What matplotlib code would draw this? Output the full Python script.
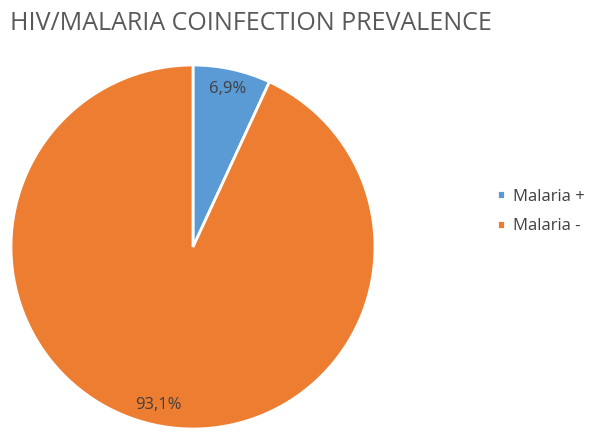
import matplotlib.pyplot as plt

labels = ["Malaria +", "Malaria -"]
values = [6.9, 93.1]
colors = ["#5B9BD5", "#ED7D31"]

plt.rcParams['font.family'] = ['Open Sans', 'DejaVu Sans']

fig = plt.figure(figsize=(5.94, 4.37), dpi=100)
fig.text(10 / 594, 1 - 23 / 437, "HIV/MALARIA COINFECTION PREVALENCE",
         fontsize=18, color="#595959", va="center", ha="left")

ax = fig.add_axes([11 / 594, 8 / 437, 364 / 594, 364 / 437])
wedges, texts, autotexts = ax.pie(
    values, colors=colors, startangle=90, counterclock=False,
    autopct=lambda p: f"{p:.1f}".replace(".", ",") + "%",
    pctdistance=0.89, radius=1,
    wedgeprops=dict(edgecolor="white", linewidth=2),
    textprops=dict(fontsize=12, color="#404040"))
ax.set_xlim(-1, 1)
ax.set_ylim(-1, 1)
ax.set_aspect('equal')

fig.legend(wedges, labels, loc="center left", bbox_to_anchor=(497 / 594, 1 - 211.5 / 437),
           frameon=False, fontsize=12, labelcolor="#404040",
           handlelength=0.45, handleheight=0.45, handletextpad=0.5,
           labelspacing=0.8, borderpad=0, borderaxespad=0)

fig.savefig("out.png", dpi=100)
